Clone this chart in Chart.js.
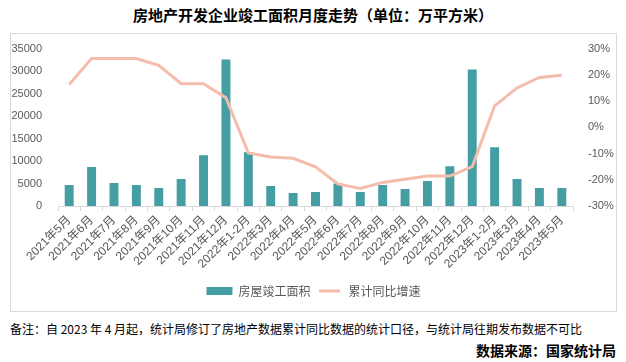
<!DOCTYPE html>
<html>
<head>
<meta charset="utf-8">
<script src="https://cdn.jsdelivr.net/npm/chart.js@4"></script>
<style>
  body { margin: 0; width: 626px; height: 362px; background: #fff; font-family: "Noto Sans CJK SC", sans-serif; position: relative; overflow: hidden; }
  #title { position: absolute; left: 0; top: 5px; width: 626px; text-align: center; font-size: 15px; font-weight: bold; color: #000; line-height: 20px; }
  #box { position: absolute; left: 10px; top: 33px; width: 607px; height: 279px; border: 1px solid #d9d9d9; box-sizing: border-box; }
  #note { position: absolute; left: 10px; top: 321px; font-size: 12px; color: #000; line-height: 16px; white-space: nowrap; }
  #source { position: absolute; right: 10px; top: 341px; font-size: 14px; font-weight: bold; color: #000; line-height: 18px; }
</style>
</head>
<body>
<div id="title">房地产开发企业竣工面积月度走势（单位：万平方米）</div>
<div id="box"><canvas id="grafico"></canvas></div>
<div id="note">备注：自 2023 年 4 月起，统计局修订了房地产数据累计同比数据的统计口径，与统计局往期发布数据不可比</div>
<div id="source">数据来源：国家统计局</div>
<script>
// dados
const meses = ['2021年5月', '2021年6月', '2021年7月', '2021年8月', '2021年9月', '2021年10月', '2021年11月', '2021年12月',
  '2022年1-2月', '2022年3月', '2022年4月', '2022年5月', '2022年6月', '2022年7月', '2022年8月', '2022年9月',
  '2022年10月', '2022年11月', '2022年12月', '2023年1-2月', '2023年3月', '2023年4月', '2023年5月'];
const areaConcluida = [4650, 8650, 5100, 4650, 3990, 5980, 11300, 32570, 11960, 4430, 2880, 3100,
  5030, 3100, 4650, 3770, 5540, 8860, 30350, 13070, 5980, 3990, 3990];
const crescimento = [16.3, 26.2, 26.2, 26.2, 23.6, 16.6, 16.6, 11.3, -9.8, -11.3, -11.8, -15.1,
  -21.6, -23.3, -21.0, -19.8, -18.6, -18.6, -15.0, 8.2, 15.0, 19.0, 19.8];
const nomes = ['房屋竣工面积', '累计同比增速'];

const corBarra = '#459ea4';
const corLinha = '#f5bcac';
const corTexto = '#595959';
const fonte = 'Liberation Sans, Noto Sans CJK SC, sans-serif';

const ctx = document.getElementById('grafico').getContext('2d');
new Chart(ctx, {
  type: 'bar',
  data: {
    labels: meses,
    datasets: [
      { type: 'bar', label: nomes[0], data: areaConcluida, backgroundColor: corBarra, yAxisID: 'y', order: 2,
        barPercentage: 0.4, categoryPercentage: 1 },
      { type: 'line', label: nomes[1], data: crescimento, borderColor: corLinha, borderWidth: 3, pointRadius: 0,
        tension: 0, yAxisID: 'y1', order: 1 }
    ]
  },
  options: {
    responsive: true,
    maintainAspectRatio: false,
    animation: false,
    layout: { padding: { top: 14, bottom: 4, left: 0, right: 0 } },
    plugins: {
      tooltip: { enabled: false },
      legend: {
        position: 'bottom',
        labels: {
          boxWidth: 26, boxHeight: 8, padding: 6,
          color: corTexto, font: { size: 12, family: 'Noto Sans CJK SC' },
          generateLabels: () => [
            { text: nomes[0], fillStyle: corBarra, strokeStyle: corBarra, lineWidth: 0, fontColor: corTexto },
            { text: nomes[1], fillStyle: corLinha, strokeStyle: '#ffffff', lineWidth: 5, fontColor: corTexto }
          ]
        }
      }
    },
    scales: {
      x: {
        offset: true,
        grid: { display: true, drawOnChartArea: false, offset: true, color: '#d9d9d9', tickLength: 5 },
        border: { color: '#d9d9d9' },
        ticks: { color: corTexto, font: { size: 12, family: fonte }, minRotation: 45, maxRotation: 45, autoSkip: false, padding: 2 },
        afterFit: s => { s.height = 73; }
      },
      y: {
        position: 'left', min: 0, max: 35000,
        grid: { display: false },
        border: { display: false },
        ticks: { stepSize: 5000, color: corTexto, font: { size: 11, family: fonte }, padding: 8,
          callback: v => String(v) },
        afterFit: s => { s.width = 47; }
      },
      y1: {
        position: 'right', min: -30, max: 30,
        grid: { display: false },
        border: { display: false },
        ticks: { stepSize: 10, color: corTexto, font: { size: 11, family: fonte }, padding: 7,
          callback: v => v + '%' },
        afterFit: s => { s.width = 43; }
      }
    }
  }
});
</script>
</body>
</html>
